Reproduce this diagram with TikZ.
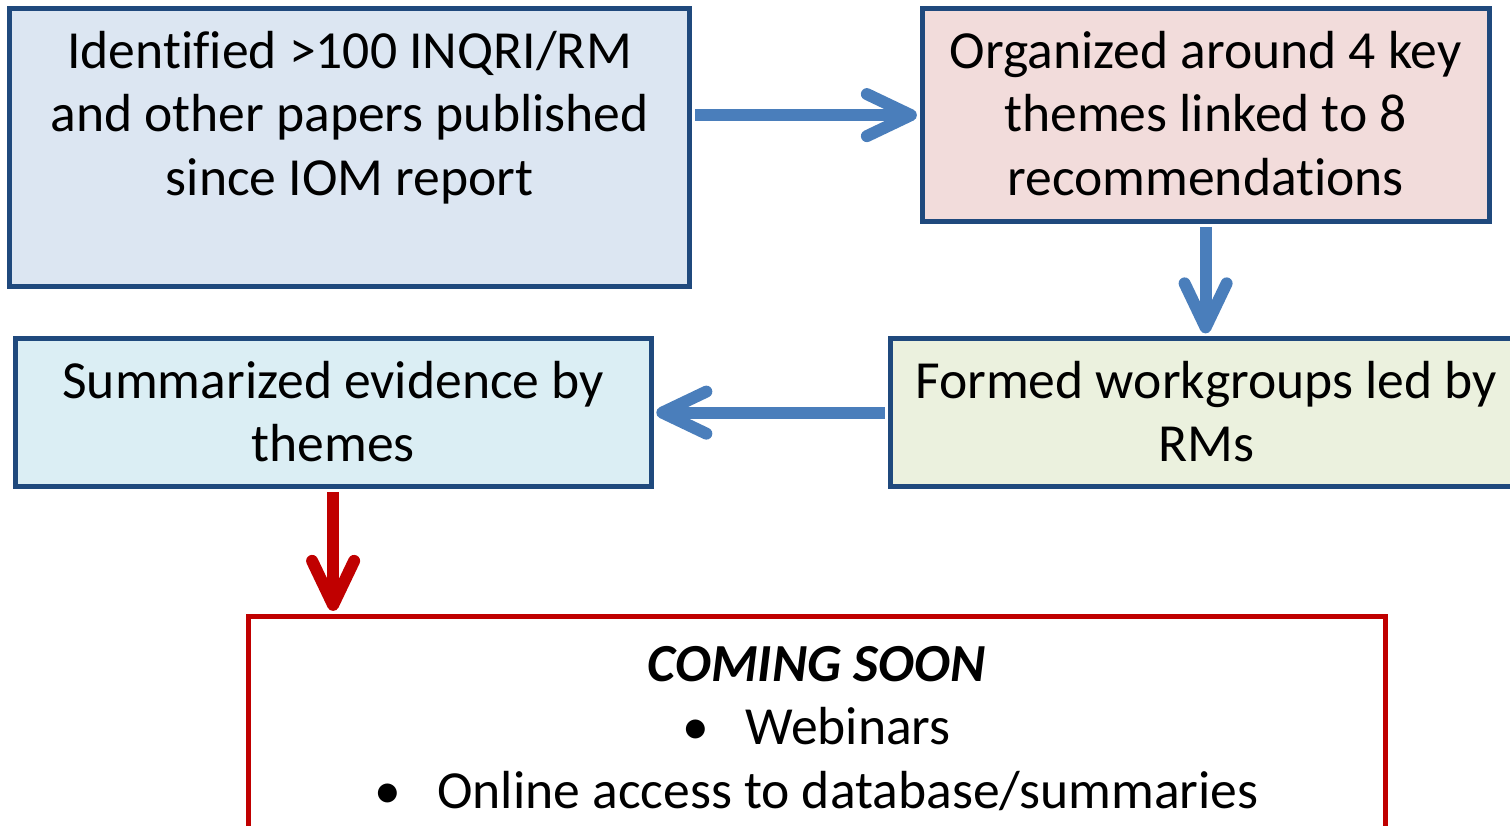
\documentclass[tikz,border=0pt]{standalone}
\usepackage{fontspec}
\setmainfont[Ligatures=NoCommon]{Carlito}
\usepackage{xcolor}
\usetikzlibrary{arrows.meta}
\definecolor{boxline}{HTML}{1F497D}
\definecolor{flowblue}{HTML}{4A7EBB}
\definecolor{soonred}{HTML}{C00000}
\definecolor{identfill}{HTML}{DCE6F2}
\definecolor{organfill}{HTML}{F2DCDB}
\definecolor{summfill}{HTML}{DBEEF4}
\definecolor{formfill}{HTML}{EBF1DE}
% width, height, gap above first line, text
\newcommand{\boxbody}[4]{\parbox[c][#2][t]{#1}{\vspace*{#3}\centering\strut #4}}

\begin{document}
\begin{tikzpicture}[x=0.5bp,y=-0.5bp]
\path[use as bounding box] (2.5,2.5) rectangle (1512.5,827.5);
\clip (2.5,2.5) rectangle (1512.5,827.5);
\begin{scope}[every node/.style={draw=boxline,line width=2.6bp,inner sep=0pt,anchor=north west,
              font=\fontsize{26.8bp}{31.75bp}\selectfont}]
    \node[fill=identfill] (ident) at (9.5,8.5) {\boxbody{340bp}{139bp}{7.5bp}{Identified >100 INQRI/RM\\and other papers published\\since IOM report}};
    \node[fill=organfill] (organ) at (922,8.5) {\boxbody{283.5bp}{106.5bp}{7.5bp}{Organized around 4 key\\themes linked to 8\\recommendations}};
    \node[fill=summfill] (summ) at (15,338.5) {\boxbody{318bp}{74bp}{7.5bp}{Summarized evidence by\\themes}};
    \node[fill=formfill] (formed) at (890,338.5) {\boxbody{316bp}{74bp}{7.5bp}{Formed workgroups led by\\RMs}};
    \node[draw=soonred,fill=white] (soon) at (248,616) {\boxbody{568.5bp}{135bp}{10.3bp}{\textbf{\textit{COMING SOON}}\\
        \textbullet\hspace{18bp}Webinars\\
        \textbullet\hspace{18bp}Online access to database/summaries}};
\end{scope}
% \begin{scope}[>={Stealth[round]},
\begin{scope}[>={Straight Barb[round,line width=6bp,length=22bp,width=21bp]},
              every edge/.style={draw=flowblue,line width=6bp,shorten <=1.3bp,shorten >=1.3bp}]
    \path [->] (ident.east |- organ.west) edge (organ.west);
    \path [->] (organ.south) edge (organ.south |- formed.north);
    \path [->] (formed.west) edge (summ.east);
    \path [->] (summ.south) edge[draw=soonred] (summ.south |- soon.north);
\end{scope}
\end{tikzpicture}
\end{document}
